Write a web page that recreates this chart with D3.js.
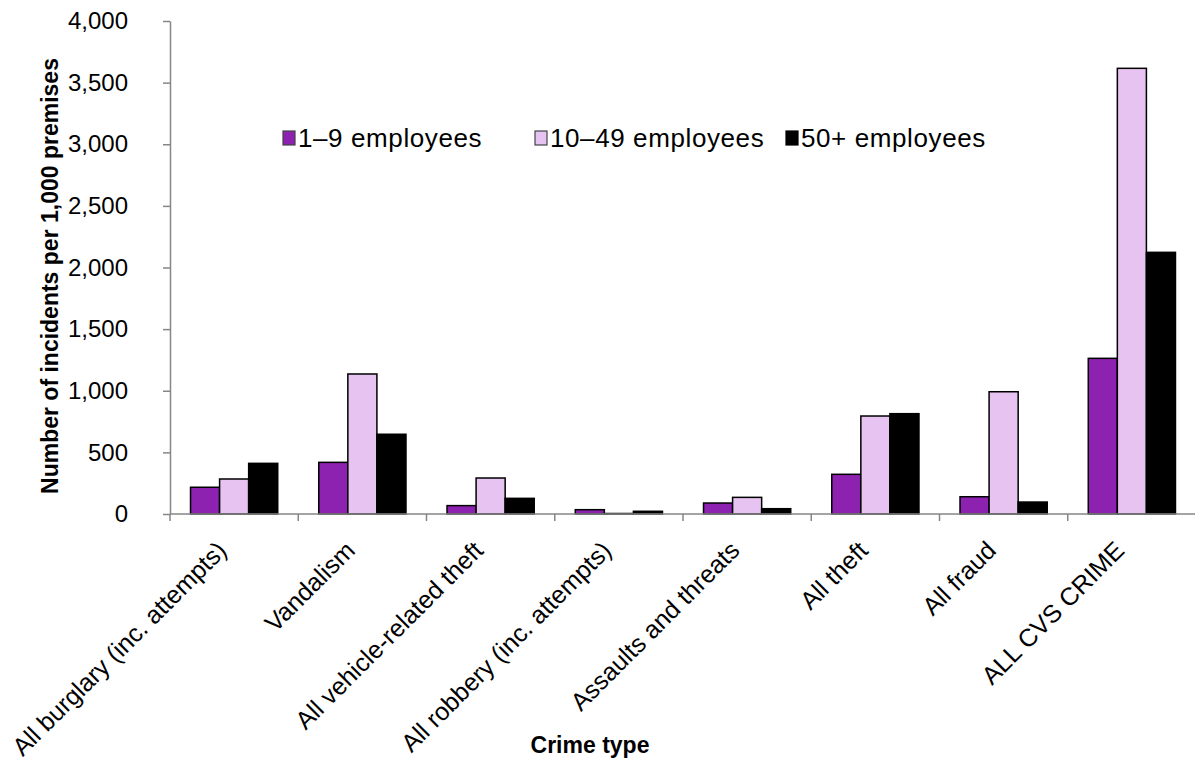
<!DOCTYPE html>
<html>
<head>
<meta charset="utf-8">
<script src="https://cdn.jsdelivr.net/npm/d3@7"></script>
<style>
  html, body { margin: 0; padding: 0; background: #fff; }
  svg { display: block; font-family: Arial, "Liberation Sans", sans-serif; }
</style>
</head>
<body>
<svg id="chart" width="1195" height="765"></svg>
<script>
const categories = ["All burglary (inc. attempts)", "Vandalism", "All vehicle-related theft", "All robbery (inc. attempts)", "Assaults and threats", "All theft", "All fraud", "ALL CVS CRIME"];
const seriesNames = ["1\u20139 employees", "10\u201349 employees", "50+ employees"];
const small = [217, 419, 68, 35, 89, 322, 140, 1263];
const medium = [284, 1136, 292, 4, 135, 795, 992, 3616];
const large = [411, 647, 127, 22, 43, 814, 97, 2123];
const yTicks = [0, 500, 1000, 1500, 2000, 2500, 3000, 3500, 4000];
const colors = ["#8e22b0", "#e6c3f1", "#000000"];

(function () {
const seriesValues = [small, medium, large];
const svg = d3.select("#chart");
const pLeft = 170, pRight = 1196, pTop = 21, pBottom = 514;

const x0 = d3.scaleBand().domain(categories).range([pLeft, pRight]).paddingInner(0.32).paddingOuter(0.16);
const x1 = d3.scaleBand().domain(seriesNames).range([0, x0.bandwidth()]);
const y = d3.scaleLinear().domain([0, 4000]).range([pBottom, pTop]);

// y axis
const yAxis = svg.append("g").attr("transform", `translate(${pLeft},0)`)
  .call(d3.axisLeft(y).tickValues(yTicks).tickFormat(d3.format(",")).tickSizeOuter(0).tickSizeInner(7).tickPadding(35));
yAxis.select(".domain").attr("stroke", "#868686").attr("stroke-width", 1.5);
yAxis.selectAll(".tick line").attr("stroke", "#868686").attr("stroke-width", 1.5);
yAxis.selectAll(".tick text").attr("font-size", 24).attr("fill", "#000").attr("font-family", "Arial, 'Liberation Sans', sans-serif");

// bars
const groups = svg.append("g").selectAll("g").data(categories).join("g")
  .attr("transform", d => `translate(${x0(d)},0)`);
groups.selectAll("rect").data((c, i) => seriesNames.map((s, k) => ({ s, k, v: seriesValues[k][i] })))
  .join("rect")
  .attr("x", d => x1(d.s))
  .attr("y", d => y(d.v))
  .attr("width", x1.bandwidth())
  .attr("height", d => y(0) - y(d.v))
  .attr("fill", d => colors[d.k])
  .attr("stroke", "#000")
  .attr("stroke-width", 1.5);

// x axis line and ticks at group boundaries
const xAxisG = svg.append("g");
xAxisG.append("line").attr("x1", pLeft).attr("x2", pRight).attr("y1", pBottom).attr("y2", pBottom)
  .attr("stroke", "#868686").attr("stroke-width", 1.5);
const bounds = d3.range(categories.length + 1).map(i => x0.range()[0] + i * x0.step());
xAxisG.selectAll("line.tk").data(bounds).join("line").attr("class", "tk")
  .attr("x1", d => d).attr("x2", d => d).attr("y1", pBottom).attr("y2", pBottom + 7)
  .attr("stroke", "#868686").attr("stroke-width", 1.5);
xAxisG.selectAll("text").data(categories).join("text")
  .attr("transform", d => `translate(${x0(d) + x0.bandwidth() / 2 - 6},${pBottom + 38}) rotate(-45)`)
  .attr("text-anchor", "end")
  .attr("font-size", 25)
  .text(d => d);

// axis titles
svg.append("text")
  .attr("transform", `translate(58,276) rotate(-90)`)
  .attr("text-anchor", "middle").attr("font-size", 23).attr("font-weight", "bold")
  .text("Number of incidents per 1,000 premises");
svg.append("text")
  .attr("x", 590).attr("y", 753)
  .attr("text-anchor", "middle").attr("font-size", 23).attr("font-weight", "bold")
  .text("Crime type");

// legend
const legendX = [283, 535, 786];
const lg = svg.append("g").selectAll("g").data(seriesNames).join("g")
  .attr("transform", (d, i) => `translate(${legendX[i]},138)`);
lg.append("rect").attr("x", 0).attr("y", -7).attr("width", 12).attr("height", 14)
  .attr("fill", (d, i) => colors[i]).attr("stroke", (d, i) => i === 2 ? "#000" : "#444").attr("stroke-width", 1.2);
lg.append("text").attr("x", 15).attr("y", 9).attr("font-size", 26).attr("letter-spacing", 0.6).text(d => d);
})();
</script>
</body>
</html>
